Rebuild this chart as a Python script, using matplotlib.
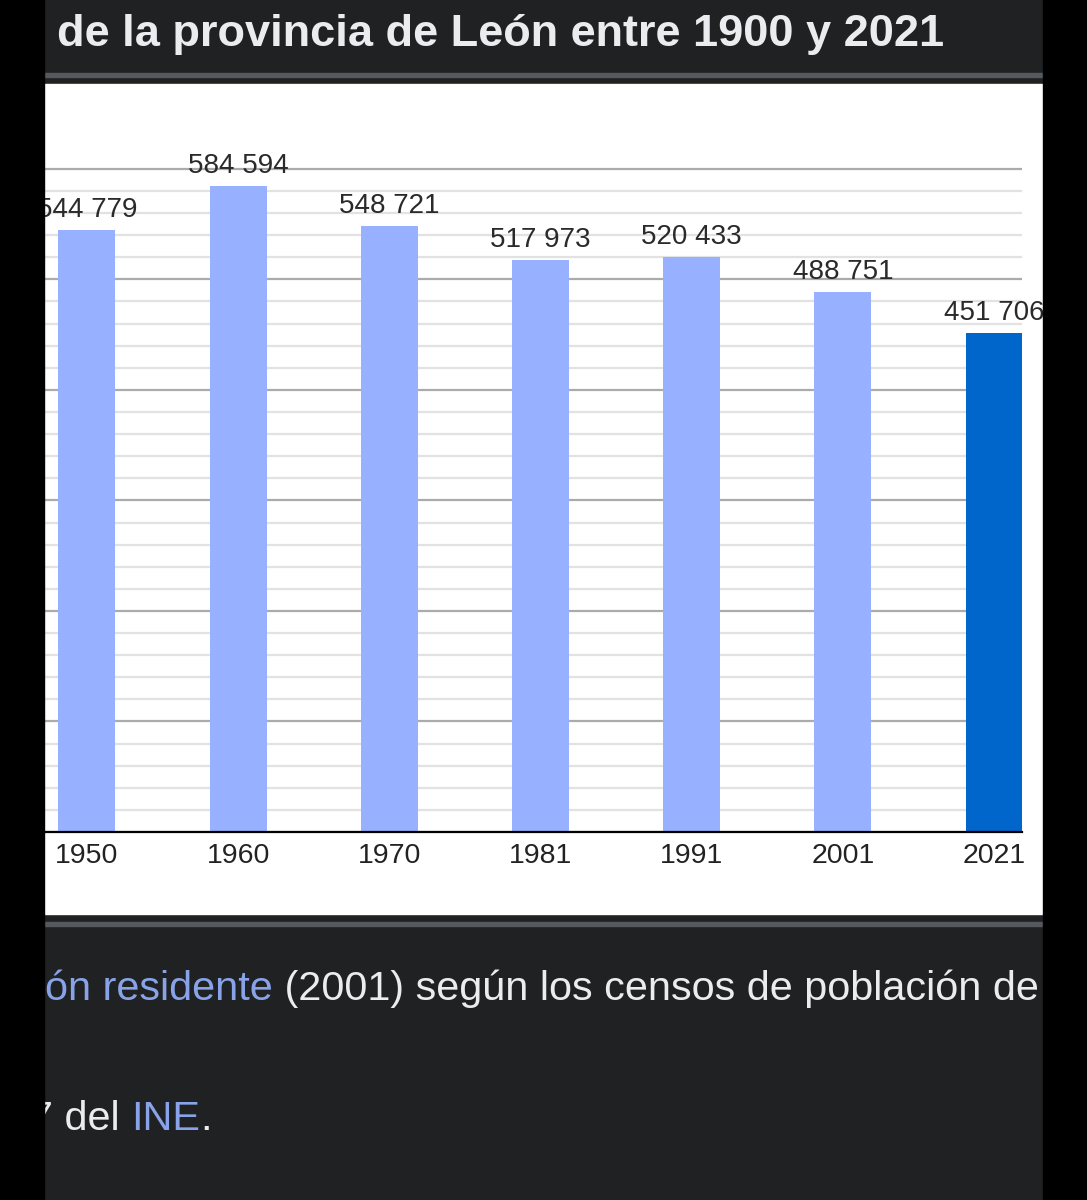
import matplotlib
matplotlib.use('Agg')
import matplotlib.pyplot as plt
from matplotlib.patches import Rectangle
from matplotlib.ticker import MultipleLocator

# Población de la provincia de León (censos)
years = ["1950", "1960", "1970", "1981", "1991", "2001", "2021"]
population = [544779, 584594, 548721, 517973, 520433, 488751, 451706]
bar_colors = ["#97b0ff"] * 6 + ["#0066cc"]

title = "de la provincia de León entre 1900 y 2021"
caption_link = "ón residente"
caption_rest = " (2001) según los censos de población de"
note_pre = "7 del "
note_link = "INE"
note_post = "."

W, H = 1087, 1200
fig = plt.figure(figsize=(W / 100, H / 100), dpi=100)
fig.patch.set_facecolor("black")

# fondo tipo pantalla (coordenadas en píxeles)
bg = fig.add_axes([0, 0, 1, 1], zorder=-1)
bg.set_xlim(0, W)
bg.set_ylim(H, 0)
bg.axis("off")
bg.add_patch(Rectangle((44, 0), 999, H, color="#202122"))
bg.add_patch(Rectangle((44, 73), 999, 4, color="#55595d"))
bg.add_patch(Rectangle((44, 84), 999, 830, color="white"))
bg.add_patch(Rectangle((44, 922), 999, 4, color="#55595d"))

bg.text(57, 46, title, color="#eaecf0", fontsize=32.5, fontweight="bold",
        family=["Liberation Sans", "DejaVu Sans"], va="baseline", ha="left")

txt_kw = dict(fontsize=29.8, family=["Liberation Sans", "DejaVu Sans"])
t1 = bg.text(45, 1000, caption_link, color="#88a3e8", va="baseline", ha="left", **txt_kw)
bg.annotate(caption_rest, xy=(1, 0), xycoords=t1, va="bottom", ha="left",
            color="#eaecf0", **txt_kw)
t2 = bg.text(30, 1130, note_pre, color="#eaecf0", va="baseline", ha="left", **txt_kw)
t3 = bg.annotate(note_link, xy=(1, 0), xycoords=t2, va="bottom", ha="left",
                 color="#88a3e8", **txt_kw)
bg.annotate(note_post, xy=(1, 0), xycoords=t3, va="bottom", ha="left",
            color="#eaecf0", **txt_kw)

# gráfico de barras
ax_left, ax_right, ax_top, ax_bottom = 0, 1022, 160, 832
ax = fig.add_axes([ax_left / W, 1 - ax_bottom / H,
                   (ax_right - ax_left) / W, (ax_bottom - ax_top) / H])
ax.set_facecolor("white")
x = range(len(years))
bars = ax.bar(x, population, width=0.377, color=bar_colors, zorder=2)
ax.set_xlim(-0.575, 6.184)
ax.set_ylim(0, 608000)
ax.yaxis.set_major_locator(MultipleLocator(100000))
ax.yaxis.set_minor_locator(MultipleLocator(20000))
ax.grid(axis="y", which="major", color="#ababab", lw=1.6, zorder=0)
ax.grid(axis="y", which="minor", color="#e2e2e2", lw=1.6, zorder=0)
ax.set_axisbelow(True)
for s in ["top", "right", "left"]:
    ax.spines[s].set_visible(False)
ax.spines["bottom"].set_color("black")
ax.spines["bottom"].set_linewidth(1.6)
ax.spines["bottom"].set_zorder(3)
ax.set_xticks(list(x))
ax.set_xticklabels(years, fontsize=20.5, color="#222222",
                   family=["Liberation Sans Narrow", "Liberation Sans"])
ax.tick_params(axis="x", length=0, pad=8)
ax.tick_params(axis="y", which="both", left=False, labelleft=False)

for b, v in zip(bars, population):
    ax.annotate(f"{v:,}".replace(",", " "), (b.get_x() + b.get_width() / 2, v),
                xytext=(0, 5), textcoords="offset points", ha="center", va="bottom",
                fontsize=20, color="#2a2a2a", family=["Liberation Sans", "DejaVu Sans"],
                annotation_clip=False)

# bordes negros del teléfono
fig.add_artist(Rectangle((0, 0), 44 / W, 1, transform=fig.transFigure,
                         color="black", zorder=100))
fig.add_artist(Rectangle((1043 / W, 0), 44 / W, 1, transform=fig.transFigure,
                         color="black", zorder=100))

fig.savefig("out.png", dpi=100, facecolor=fig.get_facecolor())
